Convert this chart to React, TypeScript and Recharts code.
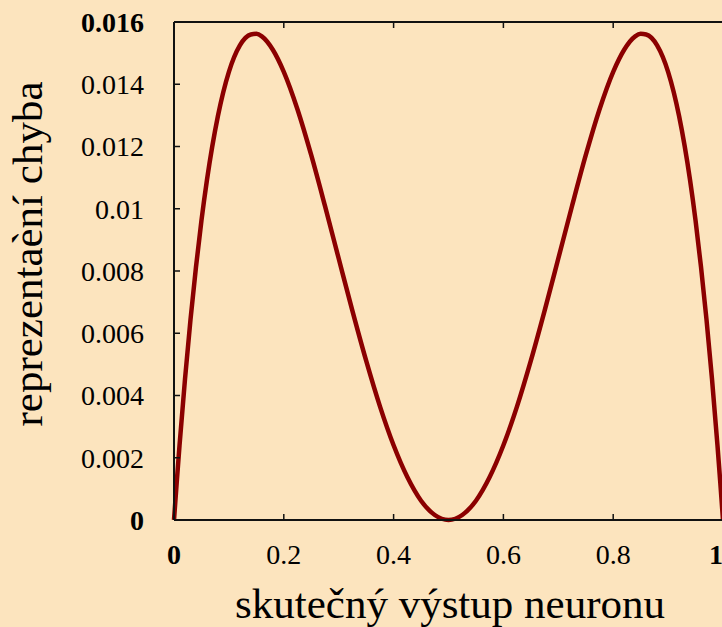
import React from "react";
import { LineChart, Line, XAxis, YAxis, Label } from "recharts";

// skutečný výstup neuronu (x) vs. reprezentační chyba (y)
const outputs = [
  0, 0.005, 0.01, 0.02, 0.03, 0.04, 0.05, 0.06, 0.08, 0.1, 0.12, 0.14, 0.15, 0.16, 0.18, 0.2,
  0.225, 0.25, 0.275, 0.3, 0.325, 0.35, 0.375, 0.4, 0.425, 0.45, 0.475, 0.5,
  0.525, 0.55, 0.575, 0.6, 0.625, 0.65, 0.675, 0.7, 0.725, 0.75, 0.775, 0.8,
  0.82, 0.84, 0.85, 0.86, 0.88, 0.9, 0.92, 0.94, 0.95, 0.96, 0.97, 0.98, 0.99, 0.995, 1,
];
const errors = [
  0, 0.00122, 0.00238, 0.00452, 0.00643, 0.00812, 0.00962, 0.01092, 0.01298, 0.0144, 0.01525, 0.0156, 0.01562, 0.01554, 0.01511, 0.0144,
  0.01319, 0.01172, 0.01009, 0.0084, 0.00672, 0.00512, 0.00366, 0.0024, 0.00138, 0.00062, 0.00016, 0,
  0.00016, 0.00062, 0.00138, 0.0024, 0.00366, 0.00512, 0.00672, 0.0084, 0.01009, 0.01172, 0.01319, 0.0144,
  0.01511, 0.01554, 0.01562, 0.0156, 0.01525, 0.0144, 0.01298, 0.01092, 0.00962, 0.00812, 0.00643, 0.00452, 0.00238, 0.00122, 0,
];

const xTicks = [0, 0.2, 0.4, 0.6, 0.8, 1];
const yTicks = [0, 0.002, 0.004, 0.006, 0.008, 0.01, 0.012, 0.014, 0.016];

const data = outputs.map((x, i) => ({ x, err: errors[i] }));

const FONT = "'Times New Roman', 'Liberation Serif', serif";
const BG = "#FCE4BE";
const AXIS = "#111";
const TICK = 6;
const XGAP = 24;
const YGAP = 30;

// bottom axis: label below, small tick pointing up into the plot
function XTick(props: any) {
  const { x, y, payload } = props;
  const v = payload.value;
  const bold = v === 0 || v === 1;
  const ay = y - XGAP;
  return (
    <g>
      <line x1={x} x2={x} y1={ay} y2={ay - TICK} stroke={AXIS} strokeWidth={1.5} />
      <text x={x} y={y} dx={v === 1 ? -7 : 0} dy="0.71em" textAnchor="middle" fontFamily={FONT} fontSize={28}
        fontWeight={bold ? "bold" : "normal"} fill="#000">
        {String(v)}
      </text>
    </g>
  );
}

function YTick(props: any) {
  const { x, y, payload } = props;
  const v = payload.value;
  const bold = v === 0 || v === 0.016;
  const ax = x + YGAP;
  return (
    <g>
      <line x1={ax} x2={ax + TICK} y1={y} y2={y} stroke={AXIS} strokeWidth={1.5} />
      <text x={x} y={y} dy="0.355em" textAnchor="end" fontFamily={FONT} fontSize={28}
        fontWeight={bold ? "bold" : "normal"} fill="#000">
        {String(v)}
      </text>
    </g>
  );
}

function TopTick(props: any) {
  const { x, y } = props;
  return <line x1={x} x2={x} y1={y} y2={y + TICK} stroke={AXIS} strokeWidth={1.5} />;
}

function RightTick(props: any) {
  const { x, y } = props;
  return <line x1={x} x2={x - TICK} y1={y} y2={y} stroke={AXIS} strokeWidth={1.5} />;
}

export default function App() {
  return (
    <div style={{ position: "absolute", left: 0, top: 0, width: 722, height: 627, overflow: "hidden", background: BG }}>
      <LineChart width={760} height={627} data={data} margin={{ top: 21, right: 36, bottom: 0, left: 0 }}>
        <XAxis dataKey="x" type="number" domain={[0, 1]} ticks={xTicks} height={107}
          stroke={AXIS} strokeWidth={2} tickLine={false} tickSize={0} tickMargin={XGAP} tick={<XTick />}>
          <Label content={(p: any) => {
            const vb = p.viewBox;
            return (
              <text x={450} y={vb.y + 98} textAnchor="middle" fontFamily={FONT}
                fontSize={43} fill="#000">skutečný výstup neuronu</text>
            );
          }} />
        </XAxis>
        <XAxis xAxisId="top" orientation="top" dataKey="x" type="number" domain={[0, 1]} ticks={xTicks}
          height={1} stroke={AXIS} strokeWidth={2} tickLine={false} tickSize={0} tickMargin={0} tick={<TopTick />} />
        <YAxis type="number" domain={[0, 0.016]} ticks={yTicks} width={174}
          stroke={AXIS} strokeWidth={2} tickLine={false} tickSize={0} tickMargin={YGAP} tick={<YTick />}>
          <Label content={() => (
            <text x={42} y={254} transform="rotate(-90 42 254)" textAnchor="middle" fontFamily={FONT}
              fontSize={43} fill="#000">reprezentaèní chyba</text>
          )} />
        </YAxis>
        <YAxis yAxisId="right" orientation="right" type="number" domain={[0, 0.016]} ticks={yTicks}
          width={1} stroke={AXIS} strokeWidth={2} tickLine={false} tickSize={0} tickMargin={0} tick={<RightTick />} />
        <Line dataKey="err" type="monotone" stroke="#8B0000" strokeWidth={4.5} dot={false}
          isAnimationActive={false} />
      </LineChart>
    </div>
  );
}
